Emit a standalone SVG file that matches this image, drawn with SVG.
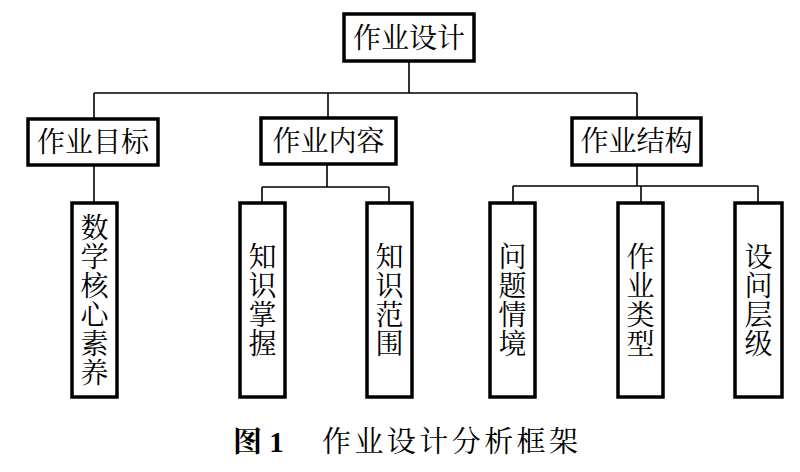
<svg xmlns="http://www.w3.org/2000/svg" width="800" height="472" viewBox="0 0 800 472">
<style>
.box{fill:#fff;stroke:#000;stroke-width:3.5}
.ln{fill:none;stroke:#000;stroke-width:1.6}
.t{font-family:"Noto Serif CJK SC","Noto Sans CJK SC",serif;font-size:28px;fill:#000;text-anchor:middle}
.cap{font-family:"Liberation Serif","Noto Serif CJK SC","Noto Sans CJK SC",serif;font-size:29px;fill:#000}
</style>
<rect width="800" height="472" fill="#fff"/>
<g id="connectors">
<path class="ln" d="M409,61V93M94,93H637M94,93V119M328,93V118M637,93V118"/>
<path class="ln" d="M94,165V203"/>
<path class="ln" d="M327,164V187M262,187H389M262,187V203M389,187V203"/>
<path class="ln" d="M637,165V186M513,186H758M513,186V203M641,186V203M758,186V203"/>
</g>
<g id="n-root"><rect class="box" x="344" y="14" width="130" height="47"/><text class="t" x="409" y="48">作业设计</text></g>
<g id="n-goal"><rect class="box" x="28" y="119" width="130" height="46"/><text class="t" x="93" y="152">作业目标</text></g>
<g id="n-content"><rect class="box" x="261" y="118" width="135" height="46"/><text class="t" x="328.5" y="151">作业内容</text></g>
<g id="n-struct"><rect class="box" x="572" y="118" width="129" height="47"/><text class="t" x="636.5" y="151">作业结构</text></g>
<g id="n-literacy"><rect class="box" x="72" y="203" width="45" height="194"/><text class="t" x="94.5 94.5 94.5 94.5 94.5 94.5" y="237.5 266.5 295.5 324.5 353.5 382.5">数学核心素养</text></g>
<g id="n-master"><rect class="box" x="240" y="203" width="45" height="194"/><text class="t" x="262.5 262.5 262.5 262.5" y="266.5 295.5 324.5 353.5">知识掌握</text></g>
<g id="n-scope"><rect class="box" x="367" y="203" width="45" height="194"/><text class="t" x="389.5 389.5 389.5 389.5" y="266.5 295.5 324.5 353.5">知识范围</text></g>
<g id="n-situation"><rect class="box" x="490" y="203" width="45" height="194"/><text class="t" x="512.5 512.5 512.5 512.5" y="266.5 295.5 324.5 353.5">问题情境</text></g>
<g id="n-type"><rect class="box" x="618" y="203" width="45" height="194"/><text class="t" x="640.5 640.5 640.5 640.5" y="266.5 295.5 324.5 353.5">作业类型</text></g>
<g id="n-level"><rect class="box" x="735" y="203" width="47" height="194"/><text class="t" x="758.5 758.5 758.5 758.5" y="266.5 295.5 324.5 353.5">设问层级</text></g>
<g id="caption">
<text class="cap" x="233" y="452" font-weight="bold">图 1</text>
<text class="cap" x="322" y="452" textLength="256" lengthAdjust="spacing">作业设计分析框架</text>
</g>
</svg>
